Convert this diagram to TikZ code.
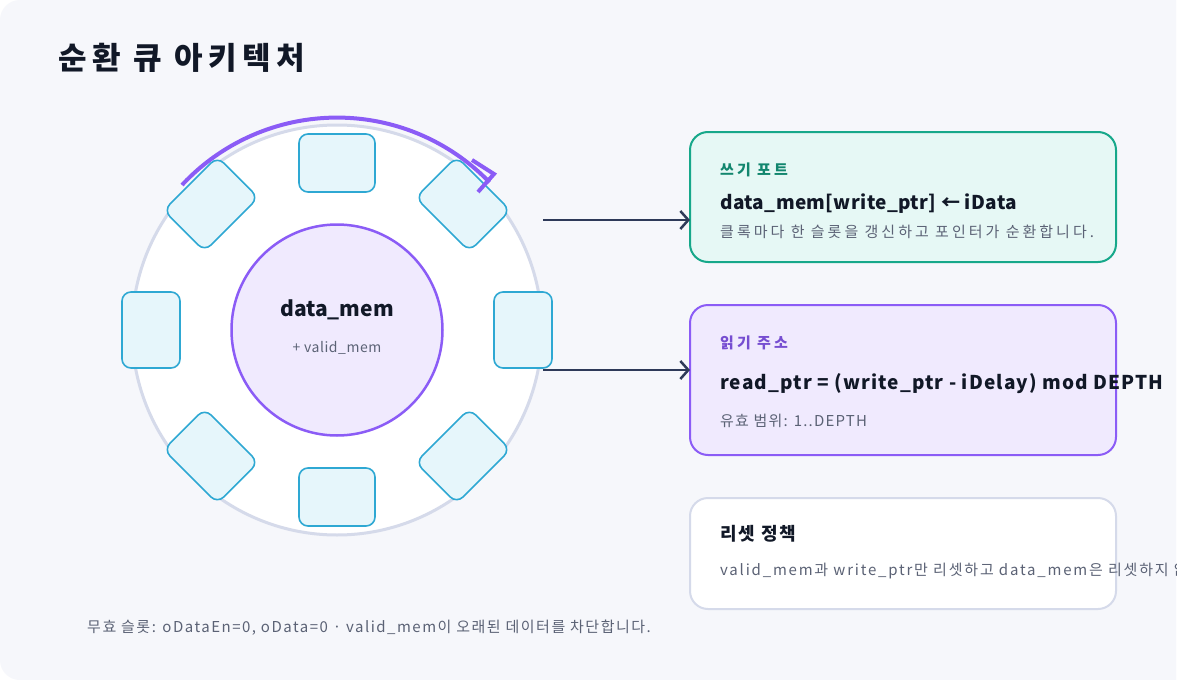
\documentclass[tikz,border=0pt]{standalone}
\usepackage{fontspec}
\setmainfont{Noto Sans CJK KR}
\usetikzlibrary{arrows.meta}
\definecolor{bg}{HTML}{F6F7FB}
\definecolor{ring}{HTML}{D5DAEA}
\definecolor{purp}{HTML}{8B5CF6}
\definecolor{lpurp}{HTML}{F0EAFE}
\definecolor{slotf}{HTML}{E6F6FB}
\definecolor{slotd}{HTML}{2EA8D3}
\definecolor{dark}{HTML}{111827}
\definecolor{arr}{HTML}{2E3A59}
\definecolor{gray1}{HTML}{5B6275}
\definecolor{grn}{HTML}{17A88A}
\definecolor{lgrn}{HTML}{E6F8F5}
\newcommand{\ls}[1]{\addfontfeatures{LetterSpace=#1}}
\begin{document}
\begin{tikzpicture}[x=1pt,y=-1pt,
  slot/.style={draw=slotd,fill=slotf,line width=1.6pt,rounded corners=9pt,minimum width=76pt,minimum height=58pt,inner sep=0pt},
  card/.style={rounded corners=18pt,line width=2pt},
  txt/.style={anchor=base west,inner sep=0pt},
  flow/.style={draw=arr,line width=2.5pt,-{Straight Barb[length=8pt,width=18pt,line width=2.5pt]}}]
\useasboundingbox (0,0) rectangle (1200,680);
\fill[white] (0,0) rectangle (1200,680);
\begin{scope}
\clip (0,0) rectangle (1176,680);
\fill[bg,rounded corners=20pt] (0,0) rectangle (1200,680);
\node[txt,font=\fontsize{31}{36}\selectfont\bfseries\ls{18},text=dark] (title) at (58,69) {순환 큐 아키텍처};
% ring
\draw[ring,fill=white,line width=3pt] (337,330) circle[radius=205];
\node[slot] (s1) at (337,163) {};
\node[slot,rotate=90] (s2) at (523,330) {};
\node[slot] (s3) at (337,497) {};
\node[slot,rotate=90] (s4) at (151,330) {};
\node[slot,rotate=45] (s5) at (211,204) {};
\node[slot,rotate=-45] (s6) at (463,204) {};
\node[slot,rotate=-45] (s7) at (211,456) {};
\node[slot,rotate=45] (s8) at (463,456) {};
\node[circle,draw=purp,fill=lpurp,line width=2.5pt,minimum size=211pt,inner sep=0pt] (mem) at (337,330) {};
\node[font=\fontsize{21}{24}\selectfont\bfseries,text=dark] (mt) at (337,310) {data\_mem};
\node[font=\fontsize{14}{16}\selectfont\ls{4},text=gray1] (mv) at (337,348) {+ valid\_mem};
% arc
\draw[purp,line width=4pt] (182,185) arc[start angle=-137,end angle=-44,radius=212];
\draw[purp,line width=4pt] (472,160) -- (494,174) -- (478,192);
\coordinate (a1) at (543,220);
\coordinate (a2) at (543,370);
% cards
\draw[card,draw=grn,fill=lgrn] (690,132) rectangle (1116,262);
\node[txt,font=\fontsize{15}{18}\selectfont\bfseries\ls{20},text=grn!80!black] (w1) at (720,175) {쓰기 포트};
\node[txt,font=\fontsize{19}{22}\selectfont\bfseries\ls{2},text=dark] (w2) at (720,209) {data\_mem[write\_ptr] ← iData};
\node[txt,font=\fontsize{15}{18}\selectfont\ls{20},text=gray1] (w3) at (720,237) {클록마다 한 슬롯을 갱신하고 포인터가 순환합니다.};
\draw[card,draw=purp,fill=lpurp] (690,305) rectangle (1116,455);
\node[txt,font=\fontsize{15}{18}\selectfont\bfseries\ls{20},text=purp!85!black] (r1) at (720,348) {읽기 주소};
\node[txt,font=\fontsize{19}{22}\selectfont\bfseries\ls{6},text=dark] (r2) at (720,389) {read\_ptr = (write\_ptr - iDelay) mod DEPTH};
\node[txt,font=\fontsize{15}{18}\selectfont\ls{8},text=gray1] (r3) at (720,426) {유효 범위: 1..DEPTH};
\draw[card,draw=ring,fill=white] (690,498) rectangle (1116,609);
\node[txt,font=\fontsize{18}{21}\selectfont\bfseries\ls{10},text=dark] (p1) at (720,540) {리셋 정책};
\node[txt,font=\fontsize{15}{18}\selectfont\ls{12},text=gray1] (p2) at (720,575) {valid\_mem과 write\_ptr만 리셋하고 data\_mem은 리셋하지 않습니다.};
\node[txt,font=\fontsize{15}{18}\selectfont\ls{10},text=gray1] (foot) at (87,632) {무효 슬롯: oDataEn=0, oData=0 · valid\_mem이 오래된 데이터를 차단합니다.};
\coordinate (b1) at (690,220);
\coordinate (b2) at (690,370);
\draw[flow] (a1) -- (b1);
\draw[flow] (a2) -- (b2);
\end{scope}
\end{tikzpicture}
\end{document}
